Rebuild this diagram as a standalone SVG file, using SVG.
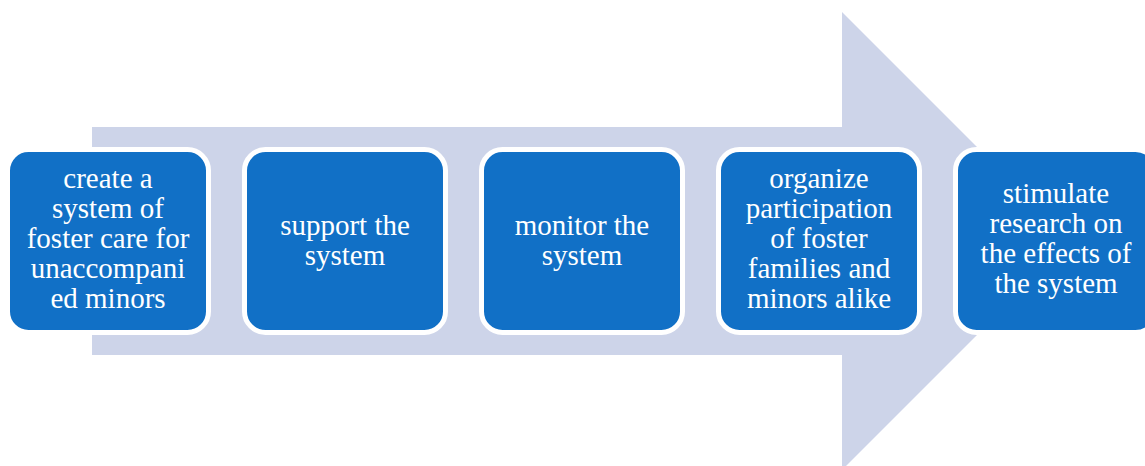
<svg xmlns="http://www.w3.org/2000/svg" width="1145" height="466" viewBox="0 0 1145 466">
<style>
.box{fill:#1170C6;stroke:#FFFFFF;stroke-width:5}
.t{font-size:29px;fill:#FFFFFF;text-anchor:middle}
</style>
<rect width="1145" height="466" fill="#FFFFFF"/>
<g id="connectors">
<polygon points="92,127 842,127 842,12 1071,241 842,470 842,355 92,355" fill="#CDD4E9"/>
</g>
<g id="node1">
<rect class="box" x="7.5" y="149.5" width="201" height="183" rx="21"/>
<text class="t" font-family="Liberation Serif"><tspan x="108" y="188">create a</tspan><tspan x="108" y="218">system of</tspan><tspan x="108" y="248">foster care for</tspan><tspan x="108" y="278">unaccompani</tspan><tspan x="108" y="308">ed minors</tspan></text>
</g>
<g id="node2">
<rect class="box" x="244.5" y="149.5" width="201" height="183" rx="21"/>
<text class="t" font-family="Liberation Serif"><tspan x="345" y="235">support the</tspan><tspan x="345" y="265">system</tspan></text>
</g>
<g id="node3">
<rect class="box" x="481.5" y="149.5" width="201" height="183" rx="21"/>
<text class="t" font-family="Liberation Serif"><tspan x="582" y="235">monitor the</tspan><tspan x="582" y="265">system</tspan></text>
</g>
<g id="node4">
<rect class="box" x="718.5" y="149.5" width="201" height="183" rx="21"/>
<text class="t" font-family="Liberation Serif"><tspan x="819" y="188">organize</tspan><tspan x="819" y="218">participation</tspan><tspan x="819" y="248">of foster</tspan><tspan x="819" y="278">families and</tspan><tspan x="819" y="308">minors alike</tspan></text>
</g>
<g id="node5">
<rect class="box" x="955.5" y="149.5" width="201" height="183" rx="21"/>
<text class="t" font-family="Liberation Serif"><tspan x="1056" y="203">stimulate</tspan><tspan x="1056" y="233">research on</tspan><tspan x="1056" y="263">the effects of</tspan><tspan x="1056" y="293">the system</tspan></text>
</g>
</svg>
